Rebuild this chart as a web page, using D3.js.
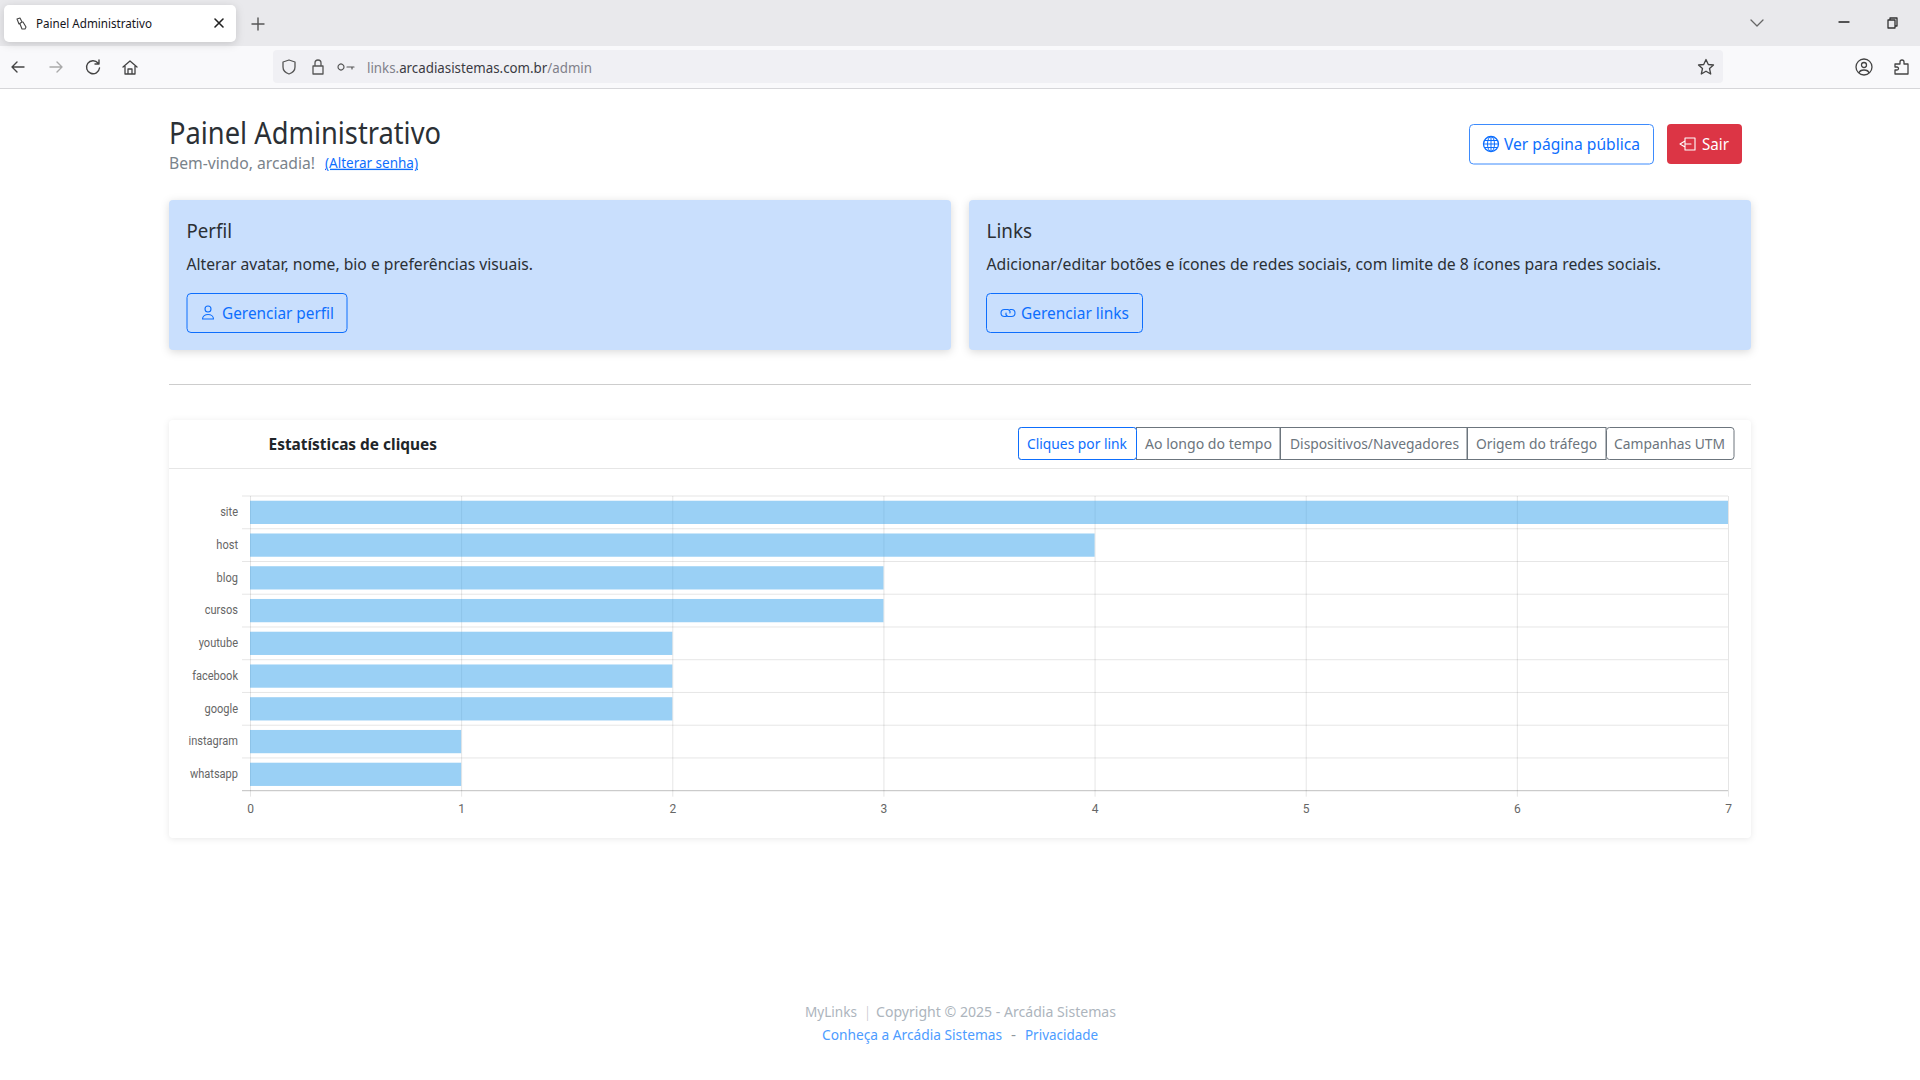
<!DOCTYPE html>
<html lang="pt-BR">
<head>
<meta charset="utf-8">
<title>Painel Administrativo</title>
<script src="https://cdn.jsdelivr.net/npm/d3@7"></script>
<style>
  html, body { margin: 0; padding: 0; background: #fff; overflow: hidden; }
  svg { display: block; }
  .ui { font-family: "Noto Sans", "Open Sans", sans-serif; }
  .axis text { font-family: Roboto, sans-serif; font-size: 12px; fill: #666; }
  .axis path { display: none; }
  .axis line { stroke: rgba(0,0,0,0.1); }
  .shadow { filter: drop-shadow(0 2px 4px rgba(0,0,0,0.15)); }
  .shadow-light { filter: drop-shadow(0 1px 3px rgba(0,0,0,0.09)); }
</style>
</head>
<body>
<div id="page"></div>
<script>
// chart values
var linkNames = ["site", "host", "blog", "cursos", "youtube", "facebook", "google", "instagram", "whatsapp"];
var linkClicks = [7, 4, 3, 3, 2, 2, 2, 1, 1];
var clickTicks = [0, 1, 2, 3, 4, 5, 6, 7];

// tabs above the chart: label and left/right edge of each button
var tabLabels = ["Cliques por link", "Ao longo do tempo", "Dispositivos/Navegadores", "Origem do tráfego", "Campanhas UTM"];
var tabEdges = [1018, 1136, 1280, 1467, 1606, 1734];
var tabTextSpans = [[1027, 1127], [1145, 1272], [1290, 1459], [1476, 1597], [1614, 1725]];

var svg = d3.select("#page").append("svg").attr("width", 1920).attr("height", 1080);

// small helpers for the page around the chart
function rect(x, y, w, h, fill, r, cls) {
  return svg.append("rect").attr("x", x).attr("y", y).attr("width", w).attr("height", h)
    .attr("fill", fill).attr("rx", r || 0).attr("class", cls || null);
}
function label(x1, x2, y, str, size, color, weight) {
  return svg.append("text").attr("class", "ui").attr("x", x1).attr("y", y)
    .attr("dy", "0.35em").attr("font-size", size).attr("fill", color)
    .attr("font-weight", weight || 400)
    .attr("textLength", x2 - x1).attr("lengthAdjust", "spacingAndGlyphs").text(str);
}
function icon(x, y, d, color, width) {
  return svg.append("path").attr("transform", "translate(" + x + "," + y + ")").attr("d", d)
    .attr("fill", "none").attr("stroke", color).attr("stroke-width", width || 1.5)
    .attr("stroke-linecap", "round").attr("stroke-linejoin", "round");
}

// browser top
rect(0, 0, 1920, 46, "#e9e9ec");
rect(0, 46, 1920, 42, "#f9f9fb");
rect(0, 88, 1920, 1, "#d6d6d9");
rect(4, 5, 232, 37, "#fff", 5, "shadow");
label(36, 152, 24, "Painel Administrativo", 12, "#15141a");
icon(21, 24, "M-4,-5 L-1,-6 L1,-2 L-2,0 Z M-1,0 L1,5 L4,5 L5,3 L2,-2", "#444", 1.1);
icon(219, 23, "M-4,-4 L4,4 M4,-4 L-4,4", "#222", 1.6);
icon(258, 24, "M-6,0 L6,0 M0,-6 L0,6", "#555", 1.4);
icon(1757, 23, "M-6,-3 L0,3 L6,-3", "#666", 1.3);
icon(1844, 22, "M-5,0 L5,0", "#222", 1.3);
icon(1892, 23, "M-4,-3 H3 V5 H-4 Z M-2,-3 V-5 H5 V3 H3", "#333", 1.3);
icon(18, 67, "M6,0 H-6 M-1,-5 L-6,0 L-1,5", "#444", 1.4);
icon(56, 67, "M-6,0 H6 M1,-5 L6,0 L1,5", "#aaa", 1.4);
icon(93, 67, "M5,-4 A6.5,6.5 0 1 0 6.5,1 M6,-7 V-3 H2", "#444", 1.4);
icon(130, 67, "M-7,0 L0,-6 L7,0 M-5,-1 V7 H5 V-1 M-2,7 V2 H2 V7", "#444", 1.3);
rect(273, 50, 1450, 33, "#f0f0f4", 4);
icon(289, 67, "M0,-7 L6,-5 V0 C6,4 3,6 0,7 C-3,6 -6,4 -6,0 V-5 Z", "#555", 1.3);
icon(318, 67, "M-5,-1 H5 V7 H-5 Z M-3,-1 V-4 A3,3 0 0 1 3,-4 V-1", "#555", 1.3);
icon(347, 67, "M-3,0 A3,3 0 1 0 -3,0.01 M0,0 H7 M5,0 V2", "#555", 1.2);
var urlText = label(367, 592, 68, "", 14, "#80808a");
urlText.append("tspan").text("links.");
urlText.append("tspan").attr("fill", "#3b3b43").text("arcadiasistemas.com.br");
urlText.append("tspan").text("/admin");
icon(1706, 67, "M0,-7.5 L2.3,-2.5 L7.5,-2 L3.5,1.5 L4.7,7 L0,4.2 L-4.7,7 L-3.5,1.5 L-7.5,-2 L-2.3,-2.5 Z", "#444", 1.3);
icon(1864, 67, "M8,0 A8,8 0 1 0 -8,0 A8,8 0 1 0 8,0 M2.5,-2 A2.5,2.5 0 1 0 -2.5,-2 A2.5,2.5 0 1 0 2.5,-2 M-5,6 C-4,2 4,2 5,6", "#444", 1.3);
icon(1902, 67, "M-7,-3 H-2 V-5 A2,2 0 0 1 2,-5 V-3 H6 V7 H-7 V3 H-5 A1.5,1.5 0 0 0 -5,0 H-7 Z", "#444", 1.3);

// page header
label(169, 441, 133, "Painel Administrativo", 30, "#2b3035");
label(169, 315, 163, "Bem-vindo, arcadia!", 16, "#7a838b");
label(325, 418, 163, "(Alterar senha)", 13.5, "#0d6efd").attr("text-decoration", "underline");

rect(1469.5, 124.5, 184, 39.5, "#fff", 4).attr("stroke", "#3d8bfd").attr("stroke-width", 1);
svg.append("g").attr("transform", "translate(1491,144)").call(function (g) {
  g.append("circle").attr("r", 7.5).attr("fill", "none").attr("stroke", "#0d6efd").attr("stroke-width", 1.3);
  g.append("ellipse").attr("rx", 3.5).attr("ry", 7.5).attr("fill", "none").attr("stroke", "#0d6efd");
  g.append("path").attr("d", "M-7.5,0 H7.5 M-6.5,-3.5 H6.5 M-6.5,3.5 H6.5 M0,-7.5 V7.5").attr("stroke", "#0d6efd");
});
label(1504, 1640, 144, "Ver página pública", 16, "#0d6efd");
rect(1667, 124, 75, 40, "#dc3545", 4);
icon(1688, 144, "M-3,-6 H7 V6 H-3 M-3,-3 V-6 M-3,3 V6 M3,0 H-3 V-3 L-8,0 L-3,3 V0", "#fff", 1.1);
label(1702, 1729, 144, "Sair", 16, "#fff");

// the two cards
rect(169, 200, 782, 150, "#c9dffd", 4, "shadow");
rect(969, 200, 782, 150, "#c9dffd", 4, "shadow");
label(186.5, 232, 231, "Perfil", 20, "#2b3035");
label(986.5, 1032, 231, "Links", 20, "#2b3035");
label(186.5, 533, 264, "Alterar avatar, nome, bio e preferências visuais.", 16, "#2b3035");
label(986.5, 1661, 264, "Adicionar/editar botões e ícones de redes sociais, com limite de 8 ícones para redes sociais.", 16, "#2b3035");

rect(187, 293.5, 160, 39, "none", 4).attr("stroke", "#0d6efd");
icon(208, 313, "M3,-4 A3,3 0 1 0 -3,-4 A3,3 0 1 0 3,-4 M-5.5,6 C-5.5,0 5.5,0 5.5,6 Z", "#0d6efd", 1.1);
label(222, 334, 313, "Gerenciar perfil", 16, "#0d6efd");
rect(986.5, 293.5, 156, 39, "none", 4).attr("stroke", "#0d6efd");
icon(1008, 313, "M-2,3.5 H-3.5 A3.5,3.5 0 0 1 -3.5,-3.5 H0 A3,3 0 0 1 2,0 M2,-3.5 H3.5 A3.5,3.5 0 0 1 3.5,3.5 H0 A3,3 0 0 1 -2,0", "#0d6efd", 1.1);
label(1021, 1129, 313, "Gerenciar links", 16, "#0d6efd");

rect(169, 384, 1582, 1, "#cdcdcd");

// chart card
rect(169, 420, 1582, 418, "#fff", 4, "shadow-light");
rect(169, 468, 1582, 1, "#e6e6e6");
label(268.5, 437, 444, "Estatísticas de cliques", 16, "#212529", 700);

// tab buttons
tabLabels.forEach(function (t, i) {
  var x1 = tabEdges[i], x2 = tabEdges[i + 1];
  rect(x1 + 0.5, 427.5, x2 - x1 - 0.5, 32, "#fff", (i === 0 || i === 4) ? 3 : 0)
    .attr("stroke", "#6c757d");
});
rect(1018.5, 427.5, 118, 32, "#fff", 3).attr("stroke", "#0d6efd");
tabLabels.forEach(function (t, i) {
  label(tabTextSpans[i][0], tabTextSpans[i][1], 444, t, 14.4, i === 0 ? "#0d6efd" : "#6c757d");
});

// bar chart
var plot = { left: 250, right: 1728, top: 496, bottom: 790.7 };

var x = d3.scaleLinear().domain([0, d3.max(clickTicks)]).range([plot.left, plot.right]);
var y = d3.scaleBand().domain(linkNames).range([plot.top, plot.bottom]);

// horizontal grid sits on band edges, like chart.js does with offset grid
var rowEdges = d3.range(linkNames.length + 1).map(function (i) {
  return plot.top + i * y.step();
});
svg.append("g").selectAll("line").data(rowEdges).join("line")
  .attr("x1", plot.left - 8).attr("x2", plot.right)
  .attr("y1", function (d) { return d; }).attr("y2", function (d) { return d; })
  .attr("stroke", function (d, i) { return i === linkNames.length ? "rgba(0,0,0,0.25)" : "rgba(0,0,0,0.1)"; });

svg.append("g").attr("class", "axis")
  .attr("transform", "translate(0," + plot.bottom + ")")
  .call(d3.axisBottom(x).tickValues(clickTicks).tickFormat(d3.format("d"))
    .tickSize(-(plot.bottom - plot.top)).tickPadding(11))
  .call(function (g) {
    g.selectAll("line").attr("y2", -(plot.bottom - plot.top)).attr("y1", 6);
    g.selectAll("text").attr("y", 13.5);
  });

svg.append("g").attr("class", "axis")
  .attr("transform", "translate(" + (plot.left - 12) + ",0)")
  .call(d3.axisLeft(y).tickSize(0).tickPadding(0))
  .call(function (g) {
    // the reference labels run a bit narrower than plain Roboto
    g.selectAll("text").each(function () {
      var w = this.getComputedTextLength();
      d3.select(this).attr("textLength", w * 0.92).attr("lengthAdjust", "spacingAndGlyphs");
    });
  });

var barH = y.bandwidth() * 0.71;
svg.append("g").selectAll("rect").data(linkNames).join("rect")
  .attr("x", x(0))
  .attr("y", function (d) { return y(d) + (y.bandwidth() - barH) / 2; })
  .attr("width", function (d, i) { return x(linkClicks[i]) - x(0); })
  .attr("height", barH)
  .attr("fill", "rgba(54,162,235,0.5)");

// footer
label(805, 857, 1012, "MyLinks", 14.4, "#adb5bd");
label(866, 869, 1012, "|", 14.4, "#8f979e");
label(876, 1116, 1012, "Copyright © 2025 - Arcádia Sistemas", 14.4, "#adb5bd");
label(822, 1002, 1035, "Conheça a Arcádia Sistemas", 14.4, "#4d9cff");
label(1011, 1016, 1035, "-", 14.4, "#8f979e");
label(1025, 1098, 1035, "Privacidade", 14.4, "#4d9cff");
</script>
</body>
</html>
